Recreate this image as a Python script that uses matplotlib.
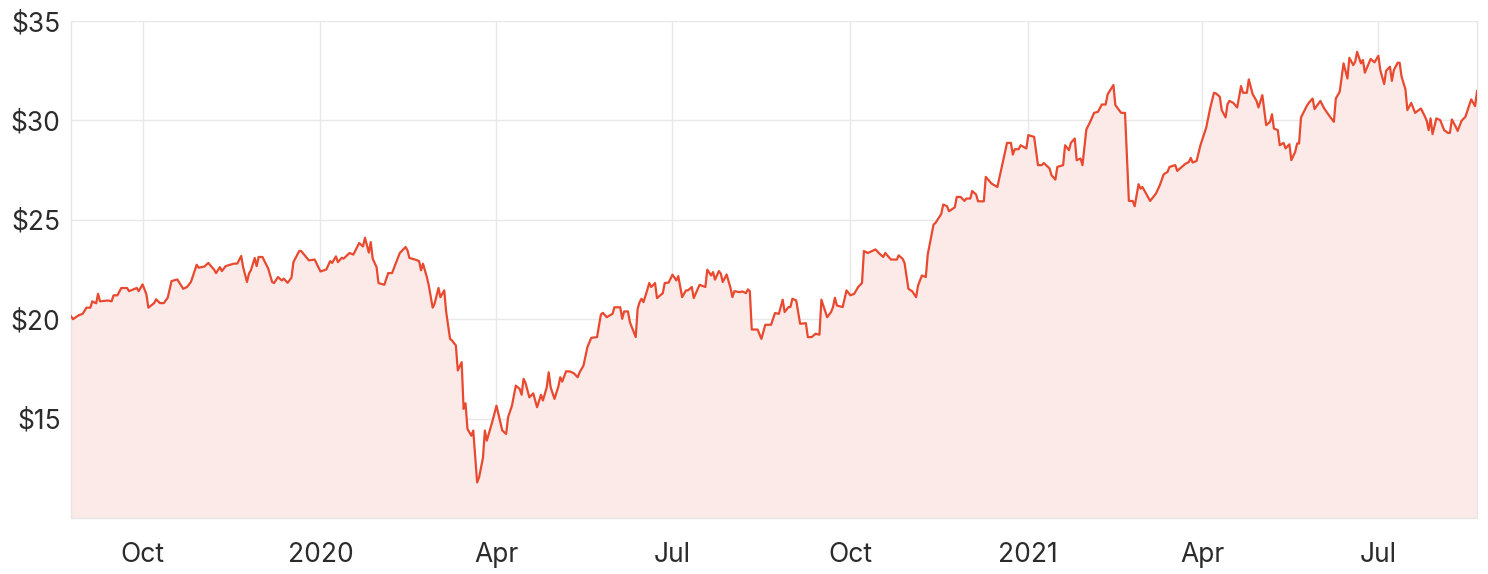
import matplotlib
matplotlib.use("Agg")
import matplotlib.pyplot as plt
import pandas as pd

dates = [
    "2019-08-25", "2019-08-26", "2019-08-29", "2019-08-31", "2019-09-02", "2019-09-04", "2019-09-05",
    "2019-09-07", "2019-09-08", "2019-09-09", "2019-09-13", "2019-09-15", "2019-09-16", "2019-09-18",
    "2019-09-20", "2019-09-23", "2019-09-24", "2019-09-28", "2019-09-29", "2019-10-01", "2019-10-03",
    "2019-10-04", "2019-10-07", "2019-10-08", "2019-10-10", "2019-10-12", "2019-10-14", "2019-10-16",
    "2019-10-19", "2019-10-22", "2019-10-24", "2019-10-26", "2019-10-29", "2019-10-30", "2019-11-02",
    "2019-11-04", "2019-11-07", "2019-11-08", "2019-11-10", "2019-11-11", "2019-11-13", "2019-11-17",
    "2019-11-19", "2019-11-21", "2019-11-22", "2019-11-24", "2019-11-25", "2019-11-26", "2019-11-28",
    "2019-11-29", "2019-11-30", "2019-12-02", "2019-12-05", "2019-12-07", "2019-12-08", "2019-12-10",
    "2019-12-12", "2019-12-13", "2019-12-15", "2019-12-17", "2019-12-18", "2019-12-21", "2019-12-22",
    "2019-12-26", "2019-12-29",
    "2020-01-01", "2020-01-04", "2020-01-06", "2020-01-07", "2020-01-09", "2020-01-10", "2020-01-12",
    "2020-01-13", "2020-01-16", "2020-01-18", "2020-01-21", "2020-01-23", "2020-01-24", "2020-01-26",
    "2020-01-27", "2020-01-28", "2020-01-30", "2020-01-31", "2020-02-03", "2020-02-05", "2020-02-07",
    "2020-02-11", "2020-02-14", "2020-02-15", "2020-02-16", "2020-02-19", "2020-02-21", "2020-02-22",
    "2020-02-23", "2020-02-25", "2020-02-26", "2020-02-28", "2020-02-29", "2020-03-02", "2020-03-03",
    "2020-03-05", "2020-03-06", "2020-03-08", "2020-03-09", "2020-03-11", "2020-03-12", "2020-03-14",
    "2020-03-15", "2020-03-16", "2020-03-17", "2020-03-19", "2020-03-20", "2020-03-22", "2020-03-23",
    "2020-03-25", "2020-03-26", "2020-03-27", "2020-03-30", "2020-04-01", "2020-04-04", "2020-04-06",
    "2020-04-07", "2020-04-09", "2020-04-11", "2020-04-13", "2020-04-14", "2020-04-15", "2020-04-16",
    "2020-04-18", "2020-04-20", "2020-04-22", "2020-04-24", "2020-04-25", "2020-04-27", "2020-04-28",
    "2020-04-29", "2020-05-01", "2020-05-03", "2020-05-04", "2020-05-05", "2020-05-07", "2020-05-09",
    "2020-05-11", "2020-05-13", "2020-05-14", "2020-05-16", "2020-05-18", "2020-05-20", "2020-05-23",
    "2020-05-25", "2020-05-26", "2020-05-28", "2020-05-31", "2020-06-01", "2020-06-04", "2020-06-05",
    "2020-06-06", "2020-06-08", "2020-06-09", "2020-06-10", "2020-06-12", "2020-06-13", "2020-06-14",
    "2020-06-15", "2020-06-16", "2020-06-18", "2020-06-19", "2020-06-20", "2020-06-22", "2020-06-23",
    "2020-06-26", "2020-06-27", "2020-06-29", "2020-07-01", "2020-07-03", "2020-07-04", "2020-07-06",
    "2020-07-08", "2020-07-09", "2020-07-11", "2020-07-12", "2020-07-15", "2020-07-18", "2020-07-19",
    "2020-07-21", "2020-07-22", "2020-07-23", "2020-07-25", "2020-07-26", "2020-07-27", "2020-07-29",
    "2020-07-31", "2020-08-01", "2020-08-02", "2020-08-05", "2020-08-06", "2020-08-08", "2020-08-09",
    "2020-08-10", "2020-08-11", "2020-08-14", "2020-08-16", "2020-08-18", "2020-08-21", "2020-08-23",
    "2020-08-25", "2020-08-27", "2020-08-28", "2020-08-30", "2020-08-31", "2020-09-01", "2020-09-03",
    "2020-09-05", "2020-09-08", "2020-09-09", "2020-09-11", "2020-09-13", "2020-09-15", "2020-09-16",
    "2020-09-19", "2020-09-21", "2020-09-22", "2020-09-23", "2020-09-24", "2020-09-27", "2020-09-29",
    "2020-10-01", "2020-10-03", "2020-10-05", "2020-10-07", "2020-10-08", "2020-10-10", "2020-10-14",
    "2020-10-16", "2020-10-18", "2020-10-19", "2020-10-22", "2020-10-25", "2020-10-26", "2020-10-28",
    "2020-10-29", "2020-10-31", "2020-11-02", "2020-11-04", "2020-11-05", "2020-11-07", "2020-11-09",
    "2020-11-10", "2020-11-13", "2020-11-14", "2020-11-17", "2020-11-18", "2020-11-20", "2020-11-21",
    "2020-11-23", "2020-11-24", "2020-11-25", "2020-11-27", "2020-11-29", "2020-11-30", "2020-12-02",
    "2020-12-03", "2020-12-05", "2020-12-06", "2020-12-09", "2020-12-10", "2020-12-13", "2020-12-16",
    "2020-12-18", "2020-12-21", "2020-12-23", "2020-12-24", "2020-12-25", "2020-12-27", "2020-12-28",
    "2020-12-31",
    "2021-01-01", "2021-01-04", "2021-01-06", "2021-01-08", "2021-01-09", "2021-01-12", "2021-01-13",
    "2021-01-15", "2021-01-16", "2021-01-19", "2021-01-20", "2021-01-22", "2021-01-23", "2021-01-25",
    "2021-01-26", "2021-01-28", "2021-01-29", "2021-01-31", "2021-02-02", "2021-02-04", "2021-02-06",
    "2021-02-08", "2021-02-10", "2021-02-11", "2021-02-14", "2021-02-15", "2021-02-18", "2021-02-20",
    "2021-02-22", "2021-02-24", "2021-02-25", "2021-02-27", "2021-02-28", "2021-03-01", "2021-03-05",
    "2021-03-08", "2021-03-10", "2021-03-12", "2021-03-14", "2021-03-15", "2021-03-18", "2021-03-19",
    "2021-03-21", "2021-03-23", "2021-03-25", "2021-03-26", "2021-03-27", "2021-03-29", "2021-03-31",
    "2021-04-03", "2021-04-05", "2021-04-07", "2021-04-08", "2021-04-10", "2021-04-11", "2021-04-13",
    "2021-04-14", "2021-04-15", "2021-04-17", "2021-04-19", "2021-04-20", "2021-04-21", "2021-04-22",
    "2021-04-24", "2021-04-25", "2021-04-27", "2021-04-29", "2021-04-30", "2021-05-02", "2021-05-04",
    "2021-05-06", "2021-05-07", "2021-05-08", "2021-05-10", "2021-05-11", "2021-05-13", "2021-05-14",
    "2021-05-16", "2021-05-17", "2021-05-19", "2021-05-20", "2021-05-21", "2021-05-22", "2021-05-25",
    "2021-05-26", "2021-05-28", "2021-05-29", "2021-06-01", "2021-06-03", "2021-06-06", "2021-06-08",
    "2021-06-09", "2021-06-11", "2021-06-13", "2021-06-15", "2021-06-16", "2021-06-18", "2021-06-19",
    "2021-06-20", "2021-06-22", "2021-06-23", "2021-06-24", "2021-06-27", "2021-06-29", "2021-07-01",
    "2021-07-02", "2021-07-04", "2021-07-05", "2021-07-07", "2021-07-08", "2021-07-09", "2021-07-11",
    "2021-07-12", "2021-07-13", "2021-07-15", "2021-07-16", "2021-07-18", "2021-07-20", "2021-07-23",
    "2021-07-25", "2021-07-26", "2021-07-27", "2021-07-28", "2021-07-29", "2021-07-31", "2021-08-02",
    "2021-08-04", "2021-08-06", "2021-08-07", "2021-08-08", "2021-08-10", "2021-08-11", "2021-08-13",
    "2021-08-15", "2021-08-18", "2021-08-20", "2021-08-21",
]

prices = [
    20.15, 20.00, 20.20, 20.27, 20.58, 20.58, 20.90,
    20.80, 21.28, 20.90, 20.94, 20.90, 21.20, 21.20,
    21.57, 21.57, 21.41, 21.57, 21.41, 21.75, 21.25,
    20.58, 20.81, 21.00, 20.81, 20.81, 21.08, 21.92,
    22.00, 21.53, 21.62, 21.87, 22.74, 22.59, 22.65,
    22.83, 22.49, 22.32, 22.62, 22.42, 22.67, 22.79,
    22.80, 23.18, 22.62, 21.87, 22.29, 22.46, 23.08,
    22.67, 23.13, 23.13, 22.54, 21.87, 21.82, 22.12,
    21.95, 22.04, 21.83, 22.09, 22.87, 23.43, 23.43,
    22.96, 23.00,
    22.40, 22.50, 22.92, 22.83, 23.16, 22.87, 23.09,
    23.05, 23.33, 23.25, 23.83, 23.66, 24.10, 23.35,
    23.88, 23.04, 22.62, 21.82, 21.73, 22.32, 22.32,
    23.33, 23.63, 23.46, 23.08, 23.00, 22.92, 22.46,
    22.79, 22.12, 21.70, 20.58, 20.78, 21.57, 21.11,
    21.45, 20.36, 19.01, 18.93, 18.68, 17.42, 17.84,
    15.49, 15.77, 14.48, 14.14, 14.40, 11.79, 12.04,
    13.02, 14.40, 13.89, 14.90, 15.65, 14.40, 14.23,
    15.07, 15.65, 16.66, 16.49, 16.20, 17.00, 16.80,
    16.07, 16.27, 15.57, 16.20, 15.91, 16.58, 17.33,
    16.58, 15.99, 16.61, 17.08, 16.86, 17.38, 17.37,
    17.28, 17.08, 17.33, 17.67, 18.59, 19.06, 19.10,
    20.24, 20.32, 20.10, 20.27, 20.60, 20.60, 20.02,
    20.39, 20.39, 19.85, 19.60, 19.10, 20.53, 20.86,
    21.03, 20.86, 21.48, 21.82, 21.62, 21.82, 21.06,
    21.31, 21.82, 21.84, 22.24, 21.95, 22.17, 21.11,
    21.45, 21.45, 21.62, 21.06, 21.73, 21.62, 22.49,
    22.20, 22.37, 21.99, 22.42, 22.29, 21.87, 22.25,
    21.58, 21.11, 21.41, 21.36, 21.40, 21.31, 21.50,
    21.41, 19.48, 19.48, 19.01, 19.72, 19.72, 20.31,
    20.27, 20.98, 20.36, 20.61, 20.61, 21.03, 20.94,
    19.77, 19.80, 19.10, 19.10, 19.27, 19.22, 20.98,
    20.10, 20.36, 20.61, 21.08, 20.69, 20.61, 21.45,
    21.20, 21.28, 21.62, 21.82, 23.43, 23.33, 23.51,
    23.30, 23.13, 23.33, 23.00, 23.00, 23.21, 23.04,
    22.83, 21.53, 21.40, 21.11, 21.70, 22.20, 22.12,
    23.26, 24.76, 24.84, 25.30, 25.77, 25.68, 25.43,
    25.56, 25.63, 26.15, 26.15, 25.95, 26.07, 26.07,
    26.45, 26.27, 25.93, 25.93, 27.16, 26.82, 26.65,
    27.53, 28.87, 28.87, 28.28, 28.55, 28.55, 28.75,
    28.59,
    29.26, 29.17, 27.75, 27.75, 27.86, 27.58, 27.24,
    27.02, 27.66, 27.75, 28.75, 28.50, 28.87, 29.09,
    28.00, 28.08, 27.75, 29.54, 29.93, 30.38, 30.43,
    30.80, 30.80, 31.31, 31.78, 30.77, 30.38, 30.38,
    25.95, 25.95, 25.68, 26.79, 26.57, 26.65, 25.95,
    26.32, 26.74, 27.29, 27.41, 27.66, 27.75, 27.46,
    27.63, 27.80, 27.91, 28.11, 27.88, 27.96, 28.75,
    29.64, 30.60, 31.39, 31.36, 31.19, 30.52, 30.15,
    30.82, 30.98, 30.88, 30.65, 31.19, 31.73, 31.39,
    31.39, 32.06, 31.32, 30.98, 30.65, 31.27, 29.76,
    29.93, 30.31, 29.59, 29.51, 28.75, 28.87, 28.59,
    28.80, 28.00, 28.42, 28.84, 28.84, 30.15, 30.73,
    30.88, 31.10, 30.57, 30.98, 30.60, 30.18, 29.93,
    31.10, 31.44, 32.87, 32.11, 33.15, 32.78, 32.95,
    33.45, 32.87, 33.04, 32.40, 33.09, 32.92, 33.25,
    32.53, 31.83, 32.50, 32.70, 31.99, 32.53, 32.90,
    32.90, 32.20, 31.56, 30.52, 30.88, 30.38, 30.60,
    30.21, 29.98, 29.51, 30.10, 29.31, 30.10, 30.01,
    29.51, 29.37, 29.37, 30.05, 29.68, 29.47, 29.98,
    30.18, 31.06, 30.72, 31.47,
]

y_ticks = [15, 20, 25, 30, 35]
y_tick_labels = ["$15", "$20", "$25", "$30", "$35"]
x_ticks = ["2019-10-01", "2020-01-01", "2020-04-01", "2020-07-01",
           "2020-10-01", "2021-01-01", "2021-04-01", "2021-07-01"]
x_tick_labels = ["Oct", "2020", "Apr", "Jul", "Oct", "2021", "Apr", "Jul"]

plt.rcParams["font.family"] = ["Inter", "DejaVu Sans"]

x = pd.to_datetime(dates)
fig = plt.figure(figsize=(14.88, 5.74), dpi=100)
ax = fig.add_axes([71 / 1488, 1 - 518 / 574, (1477 - 71) / 1488, (518 - 21) / 574])

line_color = "#E8492F"
ax.fill_between(x, prices, 10, color="#FBEAE7", linewidth=0, zorder=1)
ax.plot(x, prices, color=line_color, linewidth=1.6, zorder=3)

ax.set_xlim(x[0], x[-1])
ax.set_ylim(10, 35)
ax.set_yticks(y_ticks)
ax.set_yticklabels(y_tick_labels)
ax.set_xticks(pd.to_datetime(x_ticks))
ax.set_xticklabels(x_tick_labels)

ax.grid(True, color="#E8E8E8", linewidth=1.0, zorder=0)
ax.set_axisbelow(True)
ax.spines["top"].set_visible(False)
for side in ["left", "bottom", "right"]:
    ax.spines[side].set_color("#E6E6E6")
    ax.spines[side].set_linewidth(1.0)
ax.tick_params(axis="both", length=0, labelsize=19, colors="#2B2B2B")
ax.tick_params(axis="y", pad=7.5)
ax.tick_params(axis="x", pad=17)

fig.savefig("out.png", dpi=100, facecolor="white")
